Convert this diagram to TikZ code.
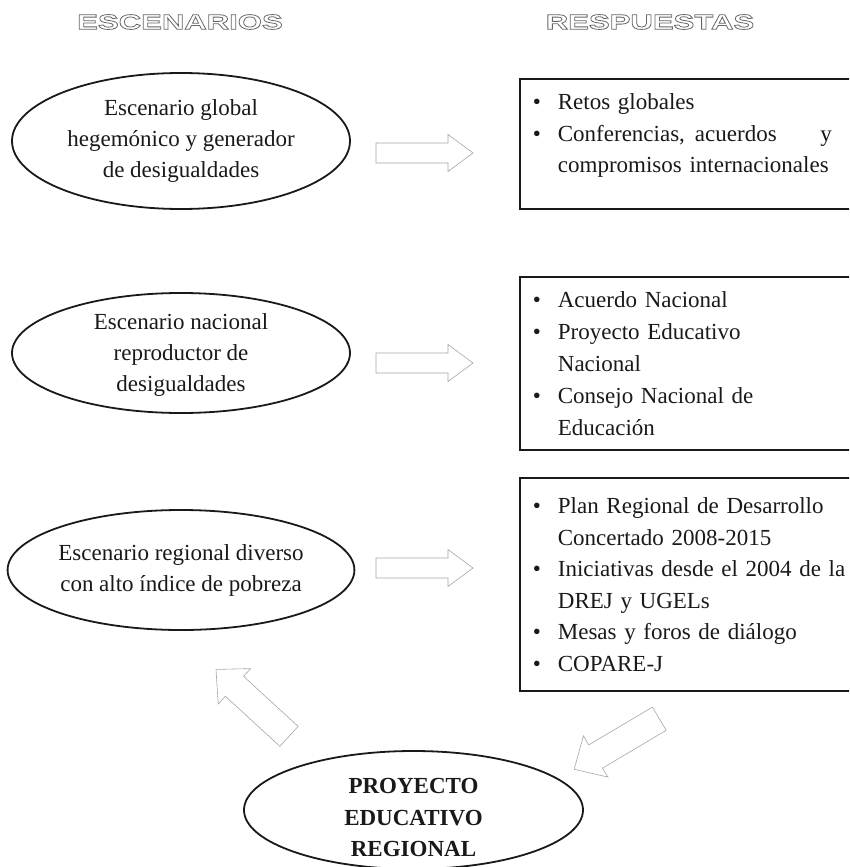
\documentclass[tikz,border=0pt]{standalone}
\usepackage{fontspec}
\setmainfont{Liberation Serif}
\newfontfamily\hdrfont{Liberation Sans}[FakeStretch=1.48]
\usetikzlibrary{shapes.geometric}
\tikzset{
    escenario/.style={ellipse, draw=black!90, line width=1.8pt, minimum width=338, minimum height=120, inner sep=0pt, align=center, text=black!90, font=\fontsize{23}{31}\selectfont},
    respuesta/.style={rectangle, draw=black!90, line width=1.8pt, anchor=north west, inner xsep=13pt, inner ysep=0pt, text width=330pt, align=left, text=black!90, font=\fontsize{23}{31.5}\selectfont},
    header/.style={font=\hdrfont\bfseries\fontsize{21}{21}\selectfont},
    blockarrow/.style={draw=black!35, fill=white, line width=0.6pt}
}

\begin{document}
\begin{tikzpicture}[x=1pt,y=-1pt]
            \useasboundingbox (0,0) rectangle (849,867);
            \clip (0,0) rectangle (849,867);

            \node[header] (hesc) at (180,22) {\special{pdf:literal direct 1 Tr 0.8 w 0.4 G}ESCENARIOS\special{pdf:literal direct 0 Tr 0 G}};
            \node[header] (hres) at (650,22) {\special{pdf:literal direct 1 Tr 0.8 w 0.4 G}RESPUESTAS\special{pdf:literal direct 0 Tr 0 G}};

            \node[escenario, minimum height=136] (e1) at (181,141) {Escenario global\\hegemónico y generador\\de desigualdades};
            \node[escenario, text depth=-2pt] (e2) at (181,353) {Escenario nacional\\reproductor de\\desigualdades};
            \node[escenario] (e3) at (181,570) {Escenario regional diverso\\con alto índice de pobreza};
            \node[escenario, minimum width=339, minimum height=118, font=\fontsize{23}{31.5}\selectfont\bfseries] (per) at (413.5,810) {\raisebox{-15pt}[30pt][30pt]{\begin{tabular}{@{}c@{}}PROYECTO\\EDUCATIVO\\REGIONAL\end{tabular}}};

            \node[respuesta, minimum height=130, text depth=84pt] (r1) at (519,78) {\makebox[25pt][l]{\textbullet}Retos globales\\
                \makebox[25pt][l]{\textbullet}\makebox[274pt][s]{Conferencias,\hspace{10pt}acuerdos\hfill y}\\
                \hspace*{25pt}compromisos internacionales};
            \node[respuesta, minimum height=173, text depth=127pt, font=\fontsize{23}{32}\selectfont] (r2) at (519,276) {\makebox[25pt][l]{\textbullet}Acuerdo Nacional\\
                \makebox[25pt][l]{\textbullet}Proyecto Educativo\\
                \hspace*{25pt}Nacional\\
                \makebox[25pt][l]{\textbullet}Consejo Nacional de\\
                \hspace*{25pt}Educación};
            \node[respuesta, minimum height=213] (r3) at (519,477) {\makebox[25pt][l]{\textbullet}Plan Regional de Desarrollo\\
                \hspace*{25pt}Concertado 2008-2015\\
                \makebox[25pt][l]{\textbullet}Iniciativas desde el 2004 de la\\
                \hspace*{25pt}DREJ y UGELs\\
                \makebox[25pt][l]{\textbullet}Mesas y foros de diálogo\\
                \makebox[25pt][l]{\textbullet}COPARE-J};

            \foreach \ya in {153,363,568}{
                \draw[blockarrow] (376,\ya-10) -- ++(72,0) -- ++(0,-8.5) -- ++(25,18.5) -- ++(-25,18.5) -- ++(0,-8.5) -- ++(-72,0) -- cycle;
            }
            \foreach \x/\y/\a in {289/736.3/137.5, 659.3/718.7/210.7}{
                \draw[blockarrow, shift={(\x,\y)}, rotate=\a] (0,-13.5) -- (74,-13.5) -- (74,-24) -- (99,0) -- (74,24) -- (74,13.5) -- (0,13.5) -- cycle;
            }
\end{tikzpicture}
\end{document}
